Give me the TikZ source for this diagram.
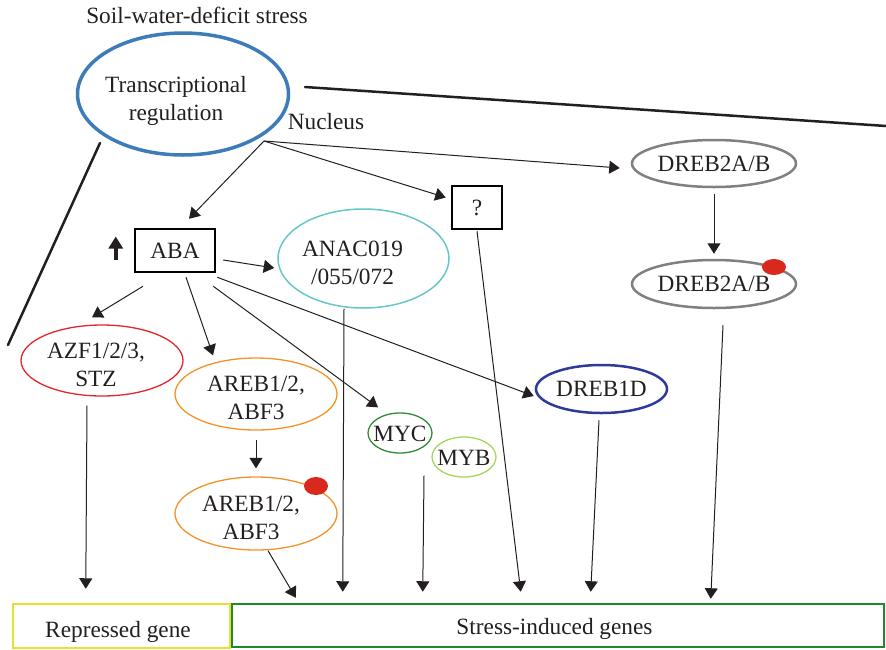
\documentclass[tikz,border=0pt]{standalone}
\usepackage{fontspec}
\setmainfont{Liberation Serif}
\usetikzlibrary{arrows.meta,shapes.geometric}
\definecolor{trblue}{HTML}{3E7CB9}
\definecolor{dgray}{HTML}{808080}
\definecolor{teal1}{HTML}{66C7C7}
\definecolor{azfred}{HTML}{E3262A}
\definecolor{arebor}{HTML}{F39325}
\definecolor{mycgreen}{HTML}{2E8B34}
\definecolor{mybgreen}{HTML}{A5D65A}
\definecolor{dnavy}{HTML}{2E3A9A}
\definecolor{repyel}{HTML}{E6E02E}
\definecolor{stgreen}{HTML}{1E8A2E}
\definecolor{dotred}{HTML}{D9291C}
\definecolor{ink}{HTML}{231F20}
\tikzset{
  lbl/.style={font=\fontsize{23.3}{28}\selectfont, text=ink, align=center, inner sep=0pt},
  oval/.style={ellipse, draw, line width=1.3pt, inner sep=0pt},
  sqbox/.style={rectangle, draw, line width=2.5pt, inner sep=0pt},
  arr/.style={line width=1pt, draw=ink, -{Triangle[length=10.5pt,width=13pt]}},
  membrane/.style={line width=2.5pt, draw=ink, line cap=round},
  pdot/.style={ellipse, fill=dotred, draw=none},
}
\begin{document}
\begin{tikzpicture}[x=1pt,y=-1pt]
\useasboundingbox (0,0) rectangle (886,649);

% cell and nucleus
\node[lbl] (soil) at (197,15) {Soil-water-deficit stress};
\node[oval, draw=trblue, line width=3.5pt, minimum width=211pt, minimum height=122pt] (tr) at (183,94) {};
\node[lbl] (trT) at ([shift={(-7pt,-7pt)}]tr.center) {Transcriptional\\regulation};
\node[lbl] (nucleus) at (326,122) {Nucleus};
\coordinate (memA1) at (305,87);
\coordinate (memA2) at (886,126);
\coordinate (memB1) at (100,143);
\coordinate (memB2) at (8,345);
\draw[membrane] (memA1) -- (memA2);
\draw[membrane] (memB1) -- (memB2);
\coordinate (hub) at (264,141);

% regulators
\node[sqbox, minimum width=80pt, minimum height=43pt] (aba) at (175,250.5) {};
\node[lbl] (abaT) at (aba.center) {ABA};
\node[sqbox, minimum width=50pt, minimum height=43pt] (q) at (477,207.5) {};
\node[lbl] (qT) at (q.center) {?};
\node[oval, draw=dgray, line width=2.5pt, minimum width=164pt, minimum height=47pt] (d2a) at (714,163.5) {};
\node[lbl] (d2aT) at (d2a.center) {DREB2A/B};
\node[oval, draw=dgray, line width=2.5pt, minimum width=164pt, minimum height=48pt] (d2b) at (714,284) {};
\node[lbl] (d2bT) at (d2b.center) {DREB2A/B};
\node[pdot, minimum width=24pt, minimum height=16pt] (d2bp) at (774,267) {};
\node[oval, draw=teal1, line width=1.5pt, minimum width=171pt, minimum height=99pt] (anac) at (363.5,258.5) {};
\node[lbl] (anacT) at ([shift={(-11pt,-4pt)}]anac.center) {ANAC019\\/055/072};
\node[oval, draw=azfred, minimum width=162pt, minimum height=71pt] (azf) at (102,360.5) {};
\node[lbl] (azfT) at ([shift={(-6pt,-4pt)}]azf.center) {AZF1/2/3,\\STZ};
\node[oval, draw=arebor, minimum width=162pt, minimum height=72pt] (areb1) at (256,394) {};
\node[lbl] (areb1T) at ([yshift=-4pt]areb1.center) {AREB1/2,\\ABF3};
\node[oval, draw=arebor, minimum width=162pt, minimum height=73pt] (areb2) at (256,513.5) {};
\node[lbl] (areb2T) at ([shift={(-5pt,-4pt)}]areb2.center) {AREB1/2,\\ABF3};
\node[pdot, minimum width=24pt, minimum height=18pt] (areb2p) at (316,486) {};
\node[oval, draw=mycgreen, minimum width=64pt, minimum height=40pt] (myc) at (400,433) {};
\node[lbl] (mycT) at ([yshift=-1pt]myc.center) {MYC};
\node[oval, draw=mybgreen, minimum width=64pt, minimum height=40pt] (myb) at (464,457) {};
\node[lbl] (mybT) at ([yshift=-1pt]myb.center) {MYB};
\node[oval, draw=dnavy, line width=2.5pt, minimum width=131pt, minimum height=48pt] (d1d) at (601.5,389) {};
\node[lbl] (d1dT) at (d1d.center) {DREB1D};

% target gene groups
\node[sqbox, draw=repyel, minimum width=217pt, minimum height=44pt] (rep) at (121.5,626) {};
\node[lbl] (repT) at ([shift={(-3.5pt,-5.5pt)}]rep.center) {Repressed gene};
\node[sqbox, draw=stgreen, minimum width=652pt, minimum height=43pt] (stress) at (558,625.5) {};
\node[lbl] (stressT) at ([shift={(-3.5pt,-3pt)}]stress.center) {Stress-induced genes};

% ABA level rises
\draw[line width=4.5pt, draw=ink, -{Triangle[length=12pt,width=14pt]}] ([shift={(-18pt,-9.5pt)}]aba.west) -- ([shift={(-18pt,14pt)}]aba.west);

% signalling from the nucleus
\draw[arr] (hub) -- ([shift={(14pt,9pt)}]aba.north);
\draw[arr] (hub) -- ([shift={(-5pt,10pt)}]q.west);
\draw[arr] (hub) -- ([shift={(-11pt,-4.5pt)}]d2a.west);
\draw[arr] ([yshift=-6pt]d2a.south) -- ([yshift=5pt]d2b.north);

% ABA-dependent branches
\draw[arr] ([shift={(7pt,-9.5pt)}]aba.east) -- ([shift={(-3pt,-9.5pt)}]anac.west);
\draw[arr] ([shift={(-32pt,-13pt)}]aba.south) -- ([shift={(-10pt,7pt)}]azf.north);
\draw[arr] ([shift={(11pt,-4pt)}]aba.south) -- ([shift={(-43pt,2pt)}]areb1.north);
\draw[arr] ([shift={(-3pt,-13pt)}]aba.south east) -- ([shift={(-22pt,5pt)}]myc.north);
\draw[arr] ([shift={(1pt,-4pt)}]aba.south east) -- ([shift={(-1pt,-7pt)}]d1d.west);
\draw[arr] ([yshift=-9pt]areb1.south) -- ([yshift=8pt]areb2.north);

% to the target genes
\draw[arr] ([shift={(-15pt,-9pt)}]azf.south) -- ([shift={(74pt,14pt)}]rep.north west);
\draw[arr] ([xshift=12pt]areb2.south) -- ([shift={(65pt,5pt)}]stress.north west);
\draw[arr] ([xshift=-19.5pt]anac.south) -- ([shift={(112pt,11pt)}]stress.north west);
\draw[arr] ([shift={(24pt,-22pt)}]myc.south) -- ([shift={(192pt,11pt)}]stress.north west);
\draw[arr] ([yshift=-1pt]q.south) -- ([shift={(290pt,11pt)}]stress.north west);
\draw[arr] ([shift={(-2.5pt,-6pt)}]d1d.south) -- ([shift={(360pt,11pt)}]stress.north west);
\draw[arr] ([shift={(9pt,-16pt)}]d2b.south) -- ([shift={(480pt,4pt)}]stress.north west);
\end{tikzpicture}
\end{document}
